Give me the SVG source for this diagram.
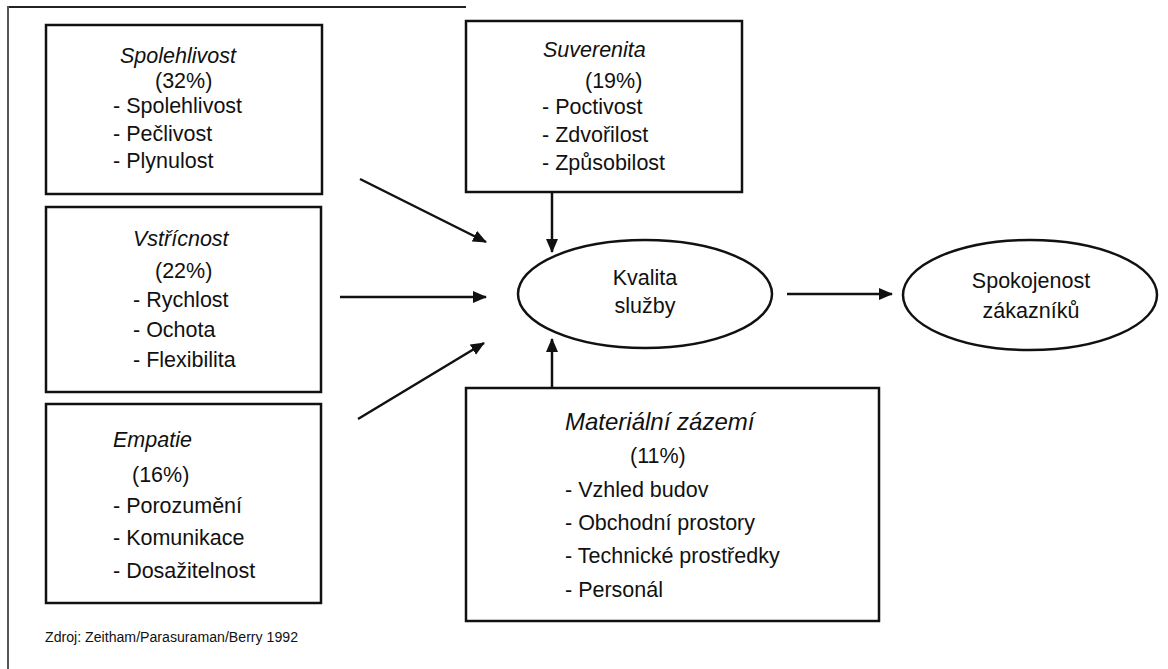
<svg xmlns="http://www.w3.org/2000/svg" width="1168" height="669" viewBox="0 0 1168 669">
<defs>
<marker id="ah" markerWidth="14" markerHeight="12" refX="13" refY="6" orient="auto" markerUnits="userSpaceOnUse">
<path d="M0,0 L14,6 L0,12 Z" fill="#111"/>
</marker>
<style>
.box{fill:none;stroke:#111;stroke-width:2.5}
.ell{fill:none;stroke:#111;stroke-width:2.5}
.t{font-family:"Liberation Sans",Arial,sans-serif;font-size:21.5px;fill:#111}
.ti{font-family:"Liberation Sans",Arial,sans-serif;font-size:21.5px;font-style:italic;fill:#111}
.c{text-anchor:middle}
.con{stroke:#111;stroke-width:2.5;fill:none;marker-end:url(#ah)}
.frame{stroke:#222;stroke-width:2;fill:none}
</style>
</defs>
<rect width="1168" height="669" fill="#fff"/>
<g id="frame">
<line class="frame" x1="7" y1="7" x2="466" y2="7"/>
<line x1="8" y1="6" x2="8" y2="669" stroke="#555" stroke-width="2"/>
</g>
<g id="spolehlivost">
<rect class="box" x="46" y="25" width="276" height="169"/>
<text class="ti" x="120" y="63">Spolehlivost</text>
<text class="t" x="155" y="88">(32%)</text>
<text class="t" x="113" y="113">- Spolehlivost</text>
<text class="t" x="113" y="141">- Pečlivost</text>
<text class="t" x="113" y="168">- Plynulost</text>
</g>
<g id="vstricnost">
<rect class="box" x="46" y="207" width="275" height="185"/>
<text class="ti" x="133" y="246">Vstřícnost</text>
<text class="t" x="155" y="278">(22%)</text>
<text class="t" x="133" y="307">- Rychlost</text>
<text class="t" x="133" y="337">- Ochota</text>
<text class="t" x="133" y="367">- Flexibilita</text>
</g>
<g id="empatie">
<rect class="box" x="46" y="404" width="275" height="199"/>
<text class="ti" x="113" y="447">Empatie</text>
<text class="t" x="132" y="482">(16%)</text>
<text class="t" x="113" y="513">- Porozumění</text>
<text class="t" x="113" y="545">- Komunikace</text>
<text class="t" x="113" y="578">- Dosažitelnost</text>
</g>
<g id="suverenita">
<rect class="box" x="466" y="21" width="276" height="171"/>
<text class="ti" x="543" y="57">Suverenita</text>
<text class="t" x="585" y="88">(19%)</text>
<text class="t" x="542" y="114">- Poctivost</text>
<text class="t" x="542" y="142">- Zdvořilost</text>
<text class="t" x="542" y="170">- Způsobilost</text>
</g>
<g id="materialni">
<rect class="box" x="466" y="388" width="413" height="233"/>
<text class="ti" x="565" y="430" style="font-size:24px">Materiální zázemí</text>
<text class="t" x="630" y="463">(11%)</text>
<text class="t" x="565" y="497">- Vzhled budov</text>
<text class="t" x="565" y="530">- Obchodní prostory</text>
<text class="t" x="565" y="563">- Technické prostředky</text>
<text class="t" x="565" y="597">- Personál</text>
</g>
<g id="kvalita">
<ellipse class="ell" cx="645" cy="294" rx="127" ry="54"/>
<text class="t c" x="645" y="285">Kvalita</text>
<text class="t c" x="645" y="313">služby</text>
</g>
<g id="spokojenost">
<ellipse class="ell" cx="1030" cy="295" rx="127" ry="55"/>
<text class="t c" x="1031" y="288">Spokojenost</text>
<text class="t c" x="1031" y="318">zákazníků</text>
</g>
<g id="connectors">
<line class="con" x1="360" y1="179" x2="486" y2="242"/>
<line class="con" x1="340" y1="297" x2="486" y2="297"/>
<line class="con" x1="358" y1="419" x2="484" y2="343"/>
<line class="con" x1="552" y1="192" x2="552" y2="252"/>
<line class="con" x1="552" y1="388" x2="552" y2="339"/>
<line class="con" x1="787" y1="294" x2="892" y2="294"/>
</g>
<g id="source">
<text x="45" y="642" style="font-family:'Liberation Sans',Arial,sans-serif;font-size:14px;fill:#111" textLength="253" lengthAdjust="spacingAndGlyphs">Zdroj: Zeitham/Parasuraman/Berry 1992</text>
</g>
</svg>
